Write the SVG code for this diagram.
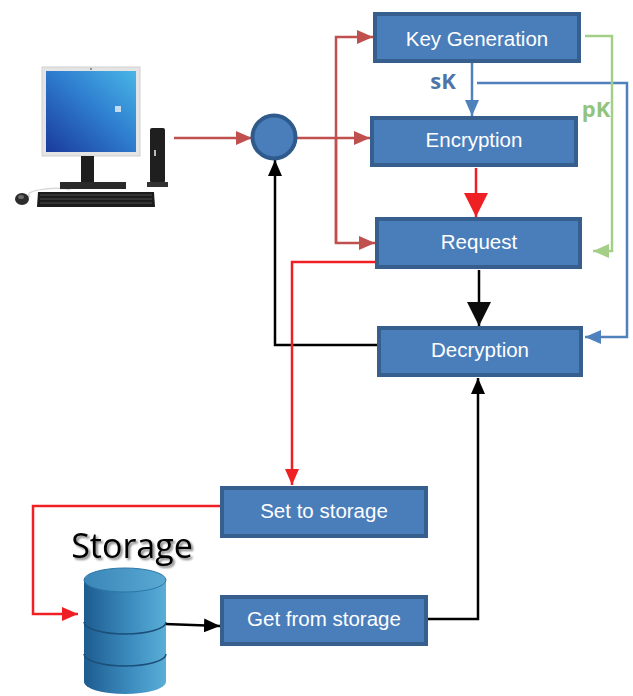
<svg xmlns="http://www.w3.org/2000/svg" width="633" height="696" viewBox="0 0 633 696">
  <defs>
    <style>
      .box { fill: #4a7ebb; stroke: #365f8e; stroke-width: 4; }
      .lbl { font-family: "Liberation Sans", Arial, sans-serif; font-size: 20.5px; fill: #ffffff; text-anchor: middle; }
      .red { fill: none; stroke: #c0504d; stroke-width: 2.5; }
      .bred { fill: none; stroke: #ee2024; stroke-width: 2.5; }
      .blk { fill: none; stroke: #000000; stroke-width: 2.5; }
      .blu { fill: none; stroke: #4f81bd; stroke-width: 2.5; }
      .grn { fill: none; stroke: #a3cf86; stroke-width: 2.5; }
      .key { font-family: "Open Sans", "Liberation Sans", sans-serif; font-weight: bold; font-size: 22px; text-anchor: middle; }
    </style>
    <marker id="mRed" markerUnits="userSpaceOnUse" viewBox="0 0 16 14" markerWidth="16" markerHeight="14" refX="16" refY="7" orient="auto">
      <path d="M0,0 L16,7 L0,14 Z" fill="#c0504d"/>
    </marker>
    <marker id="mBRed" markerUnits="userSpaceOnUse" viewBox="0 0 16 14" markerWidth="16" markerHeight="14" refX="16" refY="7" orient="auto">
      <path d="M0,0 L16,7 L0,14 Z" fill="#ee2024"/>
    </marker>
    <marker id="mBRedBig" markerUnits="userSpaceOnUse" viewBox="0 0 24 24" markerWidth="24" markerHeight="24" refX="24" refY="12" orient="auto">
      <path d="M0,0 L24,12 L0,24 Z" fill="#ee2024"/>
    </marker>
    <marker id="mBlk" markerUnits="userSpaceOnUse" viewBox="0 0 16 14" markerWidth="16" markerHeight="14" refX="16" refY="7" orient="auto">
      <path d="M0,0 L16,7 L0,14 Z" fill="#000"/>
    </marker>
    <marker id="mBlkBig" markerUnits="userSpaceOnUse" viewBox="0 0 24 24" markerWidth="24" markerHeight="24" refX="24" refY="12" orient="auto">
      <path d="M0,0 L24,12 L0,24 Z" fill="#0d0d0d"/>
    </marker>
    <marker id="mBlu" markerUnits="userSpaceOnUse" viewBox="0 0 16 14" markerWidth="16" markerHeight="14" refX="16" refY="7" orient="auto">
      <path d="M0,0 L16,7 L0,14 Z" fill="#4f81bd"/>
    </marker>
    <marker id="mGrn" markerUnits="userSpaceOnUse" viewBox="0 0 16 14" markerWidth="16" markerHeight="14" refX="16" refY="7" orient="auto">
      <path d="M0,0 L16,7 L0,14 Z" fill="#a3cf86"/>
    </marker>
    <linearGradient id="screen" x1="0" y1="1" x2="1" y2="0">
      <stop offset="0" stop-color="#1a3a9c"/>
      <stop offset="0.55" stop-color="#2f7fd0"/>
      <stop offset="1" stop-color="#49b6e6"/>
    </linearGradient>
    <linearGradient id="cyl" x1="0" y1="0" x2="1" y2="0">
      <stop offset="0" stop-color="#1d5c8f"/>
      <stop offset="0.6" stop-color="#3f8fc2"/>
      <stop offset="1" stop-color="#5aaed6"/>
    </linearGradient>
    <linearGradient id="cylTop" x1="0" y1="0" x2="1" y2="0">
      <stop offset="0" stop-color="#3a86b8"/>
      <stop offset="1" stop-color="#5aa9d3"/>
    </linearGradient>
    <filter id="shadow" x="-10%" y="-10%" width="130%" height="140%">
      <feGaussianBlur in="SourceAlpha" stdDeviation="1.2"/>
      <feOffset dx="1.5" dy="2" result="b"/>
      <feComponentTransfer><feFuncA type="linear" slope="0.5"/></feComponentTransfer>
      <feMerge><feMergeNode/><feMergeNode in="SourceGraphic"/></feMerge>
    </filter>
  </defs>

  <rect width="633" height="696" fill="#ffffff"/>

  <!-- connectors -->
  <g id="connectors">
    <!-- client to hub -->
    <line class="red" x1="174" y1="138" x2="252" y2="138" marker-end="url(#mRed)"/>
    <!-- hub fan-out -->
    <line class="red" x1="297" y1="138" x2="370" y2="138" stroke-width="3.5" marker-end="url(#mRed)"/>
    <path class="red" d="M336,243 V37 H373" marker-end="url(#mRed)"/>
    <path class="red" d="M336,138 V243 H375" marker-end="url(#mRed)"/>
    <!-- sK -->
    <line class="blu" x1="472" y1="63" x2="472" y2="116" marker-end="url(#mBlu)"/>
    <path class="blu" d="M477,83 H627 V337 H585" marker-end="url(#mBlu)"/>
    <!-- pK -->
    <path class="grn" d="M585,36 H612 V251 H593" marker-end="url(#mGrn)"/>
    <!-- Encryption to Request -->
    <line class="bred" x1="476" y1="168" x2="476" y2="217" stroke-width="6" marker-end="url(#mBRedBig)"/>
    <!-- Request to Decryption -->
    <line class="blk" x1="479" y1="270" x2="479" y2="326" stroke-width="8" stroke="#0d0d0d" marker-end="url(#mBlkBig)"/>
    <!-- Decryption back to hub -->
    <path class="blk" d="M377,345 H275 V160" marker-end="url(#mBlk)"/>
    <!-- Request to Set to storage -->
    <path class="bred" d="M375,262 H292 V485" marker-end="url(#mBRed)"/>
    <!-- Set to storage into database -->
    <path class="bred" d="M220,506 H33 V614 H78" marker-end="url(#mBRed)"/>
    <!-- database to Get from storage -->
    <line class="blk" x1="165" y1="624" x2="220" y2="626" marker-end="url(#mBlk)"/>
    <!-- Get from storage to Decryption -->
    <path class="blk" d="M428,619 H478 V378" marker-end="url(#mBlk)"/>
  </g>

  <!-- client computer -->
  <g id="computer">
    <path d="M30,197 C20,190 60,186 70,190" fill="none" stroke="#d8d8d8" stroke-width="1.5"/>
    <rect x="42" y="67" width="98" height="89" fill="#e4e4e4" stroke="#cfcfcf"/>
    <rect x="46" y="71" width="90" height="81" fill="url(#screen)"/>
    <rect x="115" y="106" width="6" height="6" fill="#dfe8f5" opacity="0.85"/>
    <circle cx="91" cy="69" r="1" fill="#777"/>
    <rect x="81" y="156" width="13" height="27" fill="#1e1e1e"/>
    <rect x="60" y="182" width="66" height="7" fill="#2a2a2a"/>
    <path d="M38,192 H154 L155,207 H37 Z" fill="#1c1c1c"/>
    <path d="M40,195 H152 M40,199 H152 M40,203 H152" stroke="#5a5a5a" stroke-width="0.8"/>
    <ellipse cx="22" cy="199" rx="7" ry="6" fill="#2c2c2c"/>
    <ellipse cx="21" cy="197" rx="3" ry="2" fill="#6a6a6a"/>
    <rect x="150" y="128" width="15" height="55" rx="2" fill="#1f1f1f"/>
    <rect x="147" y="182" width="21" height="5" fill="#333"/>
    <rect x="154" y="150" width="2" height="6" fill="#bbb"/>
  </g>

  <!-- hub -->
  <g id="hub">
    <circle cx="274" cy="137" r="21.5" fill="#4a7ebb" stroke="#2f5a8c" stroke-width="4"/>
  </g>

  <g id="keygen">
    <rect class="box" x="375" y="14" width="204" height="47"/>
    <text class="lbl" x="477" y="46">Key Generation</text>
  </g>
  <text class="key" x="443" y="89" fill="#4f74a8">sK</text>
  <text class="key" x="596" y="117" fill="#93c47d">pK</text>

  <g id="encryption">
    <rect class="box" x="372" y="118" width="204" height="47"/>
    <text class="lbl" x="474" y="147">Encryption</text>
  </g>

  <g id="request">
    <rect class="box" x="377" y="219" width="203" height="48"/>
    <text class="lbl" x="479" y="249">Request</text>
  </g>

  <g id="decryption">
    <rect class="box" x="379" y="328" width="202" height="47"/>
    <text class="lbl" x="480" y="357">Decryption</text>
  </g>

  <g id="set-storage">
    <rect class="box" x="222" y="488" width="204" height="48"/>
    <text class="lbl" x="324" y="518">Set to storage</text>
  </g>

  <g id="get-storage">
    <rect class="box" x="222" y="597" width="204" height="47"/>
    <text class="lbl" x="324" y="626">Get from storage</text>
  </g>

  <!-- database -->
  <g id="storage">
    <text x="132" y="558" font-family="Open Sans, Liberation Sans, sans-serif" font-size="34" fill="#000" text-anchor="middle" filter="url(#shadow)">Storage</text>
    <path d="M84,580 V682 A41,12 0 0 0 166,682 V580 Z" fill="url(#cyl)"/>
    <path d="M84,622 A41,12 0 0 0 166,622" fill="none" stroke="#1c4f78" stroke-width="1.5"/>
    <path d="M84,654 A41,12 0 0 0 166,654" fill="none" stroke="#1c4f78" stroke-width="1.5"/>
    <ellipse cx="125" cy="580" rx="41" ry="12" fill="url(#cylTop)" stroke="#2d77a8" stroke-width="1"/>
  </g>
</svg>
